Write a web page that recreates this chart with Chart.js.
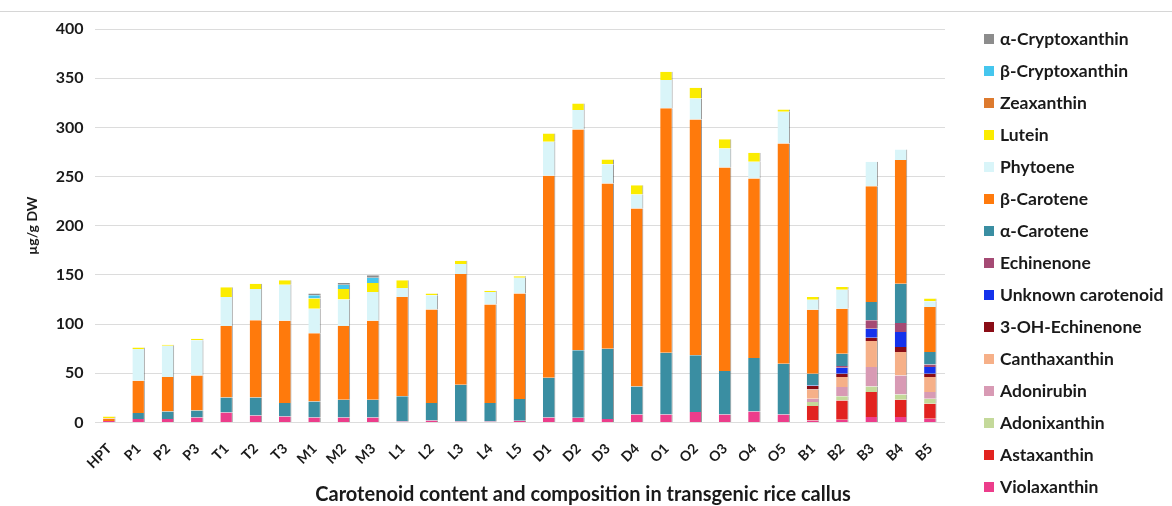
<!DOCTYPE html>
<html>
<head>
<meta charset="utf-8">
<script src="https://cdn.jsdelivr.net/npm/chart.js@4.4.1/dist/chart.umd.min.js"></script>
<style>
  html, body { margin: 0; padding: 0; background: #ffffff; }
  #wrap { position: relative; width: 1172px; height: 506px; }
  #topRule { position: absolute; left: 0; top: 11px; width: 1172px; height: 0; border-top: 1px solid #d6d6d6; }
  canvas { position: absolute; left: 0; top: 0; }
  #legend { position: absolute; left: 984px; top: 23px; margin: 0; padding: 0; list-style: none;
            font-family: Lato, "Open Sans", sans-serif; font-weight: bold; font-size: 17.5px; color: #1a1a1a; }
  #legend li { height: 32px; line-height: 32px; white-space: nowrap; }
  #legend .sw { display: inline-block; width: 10px; height: 10px; margin-right: 6px; vertical-align: 1px; }
  #xTitle { position: absolute; left: 283px; width: 600px; top: 480px; text-align: center;
            font-family: Lato, "Open Sans", sans-serif; font-weight: bold; font-size: 20px; line-height: 26px; color: #1a1a1a; }
</style>
</head>
<body>
<div id="wrap">
  <div id="topRule"></div>
  <canvas id="chart" width="1172" height="506"></canvas>
  <ul id="legend"></ul>
  <div id="xTitle">Carotenoid content and composition in transgenic rice callus</div>
</div>
<script>
// Callus lines
const lines = ['HPT','P1','P2','P3','T1','T2','T3','M1','M2','M3','L1','L2','L3','L4','L5',
               'D1','D2','D3','D4','O1','O2','O3','O4','O5','B1','B2','B3','B4','B5'];

// Carotenoid amounts (µg/g DW), one value per line, stacked bottom to top
const violaxanthin    = [1.5,3.4,3.4,5.0,10.2,7.0,6.0,5.0,5.0,5.0,1.0,2.0,1.0,1.0,1.7,5.0,4.7,3.4,8.1,8.1,10.5,8.1,11.2,8.1,2.0,2.7,5.4,5.4,3.7];
const astaxanthin     = [0,0,0,0,0,0,0,0,0,0,0,0,0,0,0,0,0,0,0,0,0,0,0,0,14.6,19.7,25.5,17.6,15.3];
const adonixanthin    = [0,0,0,0,0,0,0,0,0,0,0,0,0,0,0,0,0,0,0,0,0,0,0,0,4.1,4.1,5.7,5.5,5.1];
const adonirubin      = [0,0,0,0,0,0,0,0,0,0,0,0,0,0,0,0,0,0,0,0,0,0,0,0,3.3,9.5,19.7,19.3,6.8];
const canthaxanthin   = [0,0,0,0,0,0,0,0,0,0,0,0,0,0,0,0,0,0,0,0,0,0,0,0,9.6,10.1,26.4,23.8,15.2];
const ohEchinenone    = [0,0,0,0,0,0,0,0,0,0,0,0,0,0,0,0,0,0,0,0,0,0,0,0,3.4,3.4,3.4,5.1,3.4];
const unknownCar      = [0,0,0,0,0,0,0,0,0,0,0,0,0,0,0,0,0,0,0,0,0,0,0,0,0.6,6.1,9.2,15.3,6.8];
const echinenone      = [0,0,0,0,0,0,0,0,0,0,0,0,0,0,0,0,0,0,0,0,0,0,0,0,0,1.7,8.5,9.0,2.7];
const alphaCarotene   = [0,6.1,7.8,7.2,15.2,18.4,13.7,16.4,18.0,18.0,25.5,17.7,37.3,18.7,22.0,40.5,68.6,71.6,28.5,62.8,57.7,44.1,54.3,51.6,11.9,12.6,18.7,40.0,12.6];
const betaCarotene    = [2.5,32.9,34.9,35.6,72.6,78.4,83.8,69.2,75.0,80.5,101.1,95.0,112.7,100.1,107.3,205.4,224.6,168.0,180.9,248.4,239.8,207.0,182.5,223.9,65.1,45.8,117.7,125.7,45.8];
const phytoene        = [0.5,32.2,31.9,35.7,29.6,31.9,36.5,25.1,26.9,29.2,9.1,14.6,10.0,12.9,16.0,34.5,19.7,19.6,14.2,28.8,21.4,19.3,17.0,32.3,10.0,19.3,24.8,10.8,5.8];
const lutein          = [1.5,1.7,1.0,1.5,9.8,5.3,4.5,10.2,10.8,9.1,7.8,1.7,3.5,1.3,1.6,8.3,6.7,4.7,9.5,8.5,10.9,9.5,9.1,2.3,3.0,2.7,0,0,2.8];
const zeaxanthin      = [0,0,0,0,0,0,0,0,0,0,0,0,0,0,0,0,0,0,0,0,0,0,0,0,0,0,0,0,0];
const betaCrypto      = [0,0,0,0,0,0,0,3.4,4.3,5.2,0,0,0,0,0,0,0,0,0,0,0,0,0,0,0,0,0,0,0];
const alphaCrypto     = [0,0,0,0,0,0,0,1.7,1.8,2.6,0,0,0,0,0,0,0,0,0,0,0,0,0,0,0,0,0,0,0];

// Y axis tick values
const yTicks = [0,50,100,150,200,250,300,350,400];

const series = [
  ['Violaxanthin',        violaxanthin,  '#ec3d8b'],
  ['Astaxanthin',         astaxanthin,   '#e2231f'],
  ['Adonixanthin',        adonixanthin,  '#c4d99a'],
  ['Adonirubin',          adonirubin,    '#d89ab4'],
  ['Canthaxanthin',       canthaxanthin, '#f6b088'],
  ['3-OH-Echinenone',     ohEchinenone,  '#8a0d16'],
  ['Unknown carotenoid',  unknownCar,    '#1432ec'],
  ['Echinenone',          echinenone,    '#a54a74'],
  ['α-Carotene',          alphaCarotene, '#3a8ea2'],
  ['β-Carotene',          betaCarotene,  '#ff7a0c'],
  ['Phytoene',            phytoene,      '#d9f5f9'],
  ['Lutein',              lutein,        '#fbec00'],
  ['Zeaxanthin',          zeaxanthin,    '#dd7a2e'],
  ['β-Cryptoxanthin',     betaCrypto,    '#45c6ee'],
  ['α-Cryptoxanthin',     alphaCrypto,   '#8c8c8c']
];

const datasets = series.map(([label, data, color]) => ({
  label,
  data,
  backgroundColor: color,
  borderColor: 'rgba(70,70,70,0.55)',
  borderWidth: { top: 0, bottom: 0, left: 0, right: 1 },
  borderSkipped: false,
  categoryPercentage: 0.5,
  barPercentage: 0.85
}));

const FONT = 'Lato, "Open Sans", sans-serif';

const chart = new Chart(document.getElementById('chart'), {
  type: 'bar',
  data: { labels: lines, datasets },
  options: {
    responsive: false,
    animation: false,
    layout: { padding: { top: 29, right: 227, bottom: 24, left: 24 } },
    plugins: {
      tooltip: { enabled: false },
      legend: { display: false },
      title: { display: false }
    },
    scales: {
      x: {
        stacked: true,
        grid: { display: false },
        border: { display: false },
        ticks: {
          minRotation: 45,
          maxRotation: 45,
          padding: 10,
          color: '#1a1a1a',
          font: { family: FONT, size: 14, weight: 'bold' }
        }
      },
      y: {
        stacked: true,
        min: 0,
        max: 400,
        afterBuildTicks: (axis) => { axis.ticks = yTicks.map(v => ({ value: v })); },
        grid: { color: '#dcdcdc', lineWidth: 1, drawTicks: false },
        border: { display: false },
        ticks: {
          padding: 11,
          color: '#1a1a1a',
          font: { family: FONT, size: 16, weight: 'bold' }
        },
        title: {
          display: true,
          text: 'µg/g DW',
          color: '#1a1a1a',
          font: { family: FONT, size: 14, weight: 'bold' },
          padding: { top: 0, bottom: 4 }
        }
      }
    }
  }
});

// Legend list, top entry = top of the stack
const legendEl = document.getElementById('legend');
chart.data.datasets.slice().reverse().forEach(ds => {
  const li = document.createElement('li');
  const sw = document.createElement('span');
  sw.className = 'sw';
  sw.style.background = ds.backgroundColor;
  li.appendChild(sw);
  li.appendChild(document.createTextNode(ds.label));
  legendEl.appendChild(li);
});
</script>
</body>
</html>
